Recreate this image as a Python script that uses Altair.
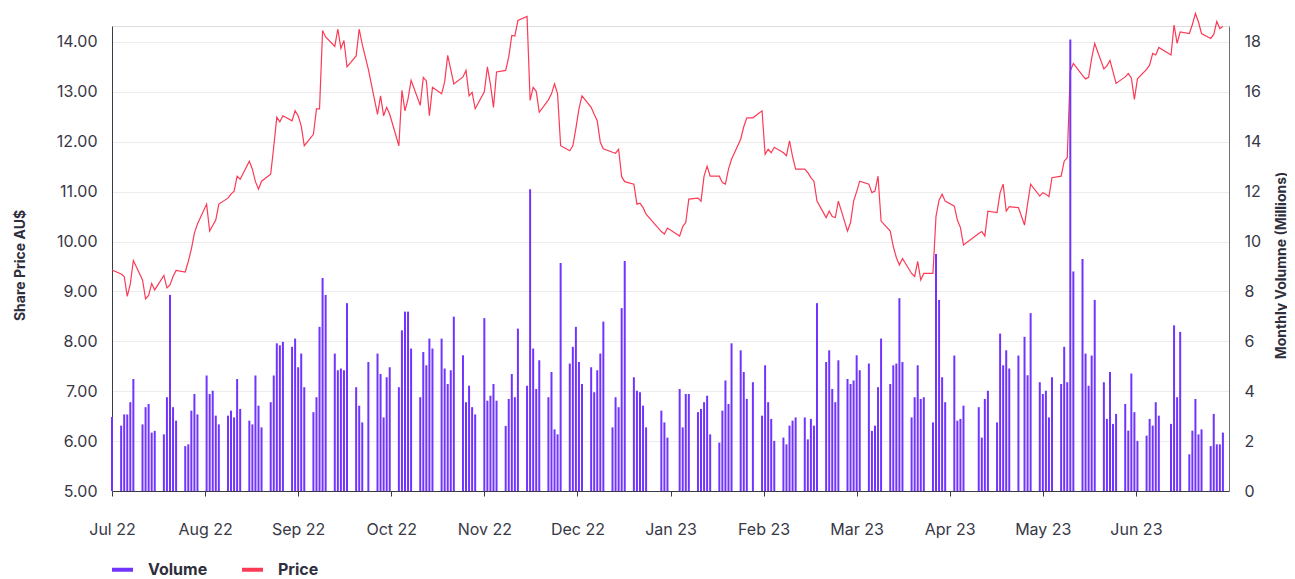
import json
import altair as alt
import pandas as pd

# ---------------- data ----------------
month_labels = ["Jul 22", "Aug 22", "Sep 22", "Oct 22", "Nov 22", "Dec 22",
                "Jan 23", "Feb 23", "Mar 23", "Apr 23", "May 23", "Jun 23"]
asx_holidays = ["2022-09-22", "2022-12-26", "2022-12-27", "2023-01-02", "2023-01-26",
                "2023-04-07", "2023-04-10", "2023-04-25", "2023-06-12"]

# daily volume (millions)
vol_jul = [2.97, 2.62, 3.07, 3.07, 3.56, 4.49, 2.67, 3.36, 3.49, 2.34, 2.41, 2.27, 3.76, 7.86, 3.36, 2.82, 1.80, 1.87, 3.22, 3.89, 3.07]
vol_aug = [4.63, 3.89, 4.02, 3.02, 2.67, 3.02, 3.22, 2.95, 4.49, 3.29, 2.82, 2.67, 4.63, 3.42, 2.55, 3.56, 4.63, 5.92, 5.84, 5.98, 5.78, 6.11, 4.96]
vol_sep = [5.51, 4.16, 3.16, 3.76, 6.58, 8.54, 7.86, 5.51, 4.84, 4.91, 4.84, 7.53, 4.16, 3.42, 2.75, 5.17, 5.51, 4.69, 2.95, 4.56, 4.96]
vol_oct = [4.16, 6.44, 7.19, 7.19, 5.71, 3.76, 5.57, 5.04, 6.11, 5.71, 6.11, 4.91, 4.29, 4.84, 6.99, 5.44, 3.56, 4.22, 3.36, 3.07, 6.93]
vol_nov = [3.62, 3.82, 4.29, 3.62, 2.61, 3.69, 4.69, 3.76, 6.51, 4.22, 12.1, 5.71, 4.09, 5.24, 3.76, 4.77, 2.47, 2.27, 9.14, 5.11, 5.78, 6.58]
vol_dec = [5.17, 4.29, 4.96, 3.96, 4.84, 5.51, 6.79, 2.55, 3.76, 3.36, 7.33, 9.22, 4.56, 4.02, 3.96, 3.42, 2.55, 3.22, 2.75, 2.14]
vol_jan = [4.09, 2.55, 3.89, 3.89, 3.16, 3.29, 3.56, 3.82, 2.27, 1.94, 3.22, 4.43, 3.49, 5.92, 5.64, 4.77, 3.69, 4.36, 3.02, 5.04]
vol_feb = [3.56, 2.89, 2.01, 2.14, 1.87, 2.62, 2.82, 2.95, 2.95, 2.07, 2.89, 2.62, 7.53, 5.17, 5.64, 4.09, 3.56, 5.24, 4.49, 4.29]
vol_mar = [4.43, 5.44, 4.84, 5.11, 2.41, 2.62, 4.16, 6.11, 4.29, 5.04, 5.11, 7.73, 5.17, 2.95, 3.76, 5.04, 3.69, 3.76, 2.75, 9.5, 7.66, 4.56, 3.56]
vol_apr = [5.43, 2.82, 2.89, 3.42, 3.36, 2.14, 3.69, 4.02, 2.75, 6.31, 5.04, 5.64, 4.91, 5.43, 6.18, 4.64, 7.13]
vol_may = [4.36, 3.89, 4.02, 2.95, 4.56, 4.29, 5.78, 4.36, 18.1, 8.8, 9.3, 5.51, 4.22, 5.43, 7.66, 4.36, 2.89, 4.77, 2.69, 3.09, 3.49, 2.42, 4.71]
vol_jun = [3.16, 2.01, 2.22, 2.89, 2.62, 3.56, 3.02, 2.69, 6.64, 3.76, 6.38, 1.47, 2.42, 3.69, 2.27, 2.47, 1.80, 3.09, 1.87, 1.87, 2.34]

# daily closing share price (AU$)
price_jul = [9.43, 9.35, 9.30, 8.90, 9.15, 9.62, 9.23, 8.85, 8.92, 9.16, 9.03, 9.32, 9.07, 9.13, 9.30, 9.42, 9.39, 9.60, 9.85, 10.17, 10.35]
price_aug = [10.75, 10.21, 10.32, 10.43, 10.75, 10.87, 10.95, 11.01, 11.31, 11.25, 11.61, 11.45, 11.20, 11.05, 11.21, 11.35, 11.90, 12.49, 12.40, 12.52, 12.42, 12.62, 12.52]
price_sep = [12.32, 11.92, 12.15, 12.66, 12.66, 14.23, 14.10, 13.91, 14.26, 13.87, 14.03, 13.50, 13.72, 14.26, 13.95, 13.45, 12.55, 12.92, 12.52, 12.69, 12.55]
price_oct = [11.92, 13.03, 12.62, 12.86, 13.23, 12.73, 13.29, 13.22, 12.52, 13.09, 12.96, 13.20, 13.73, 13.45, 13.16, 13.30, 13.43, 12.92, 12.99, 12.66, 13.00]
price_nov = [13.50, 13.15, 12.69, 13.40, 13.43, 13.70, 14.13, 14.12, 14.43, 14.51, 12.83, 13.09, 13.01, 12.59, 12.84, 12.96, 13.16, 12.96, 11.92, 11.82, 11.92, 12.27]
price_dec = [12.66, 12.92, 12.69, 12.55, 12.42, 11.99, 11.86, 11.79, 11.77, 11.85, 11.30, 11.20, 11.15, 10.75, 10.77, 10.68, 10.55, 10.20, 10.15, 10.27]
price_jan = [10.11, 10.30, 10.38, 10.85, 10.87, 10.81, 11.31, 11.51, 11.31, 11.31, 11.18, 11.15, 11.45, 11.65, 12.05, 12.30, 12.48, 12.48, 12.62, 11.75]
price_feb = [11.85, 11.78, 11.89, 11.78, 11.72, 12.02, 11.70, 11.45, 11.45, 11.38, 11.28, 11.21, 10.81, 10.48, 10.61, 10.50, 10.48, 10.81, 10.21, 10.38]
price_mar = [10.81, 11.00, 11.21, 11.15, 10.98, 11.01, 11.31, 10.41, 10.21, 9.90, 9.68, 9.53, 9.66, 9.36, 9.30, 9.60, 9.23, 9.36, 9.36, 10.51, 10.83, 10.95, 10.81]
price_apr = [10.71, 10.43, 10.28, 9.93, 10.16, 10.20, 10.11, 10.61, 10.58, 10.98, 11.15, 10.61, 10.70, 10.68, 10.33, 10.75, 11.15]
price_may = [10.91, 10.98, 10.95, 10.90, 11.28, 11.31, 11.61, 11.68, 13.42, 13.57, 13.33, 13.26, 13.29, 13.67, 13.97, 13.46, 13.52, 13.63, 13.40, 13.17, 13.30, 13.37, 13.28]
price_jun = [12.85, 13.26, 13.45, 13.54, 13.77, 13.74, 13.89, 13.74, 14.34, 13.97, 14.20, 14.17, 14.35, 14.57, 14.40, 14.17, 14.07, 14.15, 14.41, 14.27, 14.31]

volume = (vol_jul + vol_aug + vol_sep + vol_oct + vol_nov + vol_dec +
          vol_jan + vol_feb + vol_mar + vol_apr + vol_may + vol_jun)
price = (price_jul + price_aug + price_sep + price_oct + price_nov + price_dec +
         price_jan + price_feb + price_mar + price_apr + price_may + price_jun)

days = pd.bdate_range("2022-07-01", "2023-06-30")
days = days[~days.isin(pd.to_datetime(asx_holidays))]
assert len(days) == len(volume) == len(price), (len(days), len(volume), len(price))

t_ms = (days.asi8 // 10**6).tolist()
df = pd.DataFrame({"t": t_ms, "volume": volume, "price": price, "series": "Volume"})

t0 = int(pd.Timestamp("2022-07-01").value // 10**6)
t1 = int(pd.Timestamp("2023-07-02").value // 10**6)
step = (t1 - t0) / 12
tick_vals = [t0 + k * step for k in range(12)]
label_expr = json.dumps(month_labels) + "[round((datum.value - %d) / %f)]" % (t0, step)

PURPLE = "#7134FF"
RED = "#FB3A56"
FONT = "Inter"
TXT = "#383846"

xenc = alt.X(
    "t:T",
    title="",
    scale=alt.Scale(type="utc", domain=[t0, t1], padding=0),
    axis=alt.Axis(values=tick_vals, labelExpr=label_expr, grid=False,
                  ticks=True, tickSize=5, tickColor="#3a3a48", domainColor="#3a3a48",
                  labelFontSize=16, labelColor=TXT, labelPadding=25,
                  labelFlush=False, labelOverlap=False, labelFont=FONT),
)

line = alt.Chart(df).mark_line(color=RED, strokeWidth=1.2, clip=False).encode(
    x=xenc,
    y=alt.Y("price:Q", title="Share Price AU$",
            scale=alt.Scale(domain=[5, 14.32], nice=False, zero=False),
            axis=alt.Axis(orient="left", values=[5, 6, 7, 8, 9, 10, 11, 12, 13, 14],
                          format=".2f", ticks=False, grid=True, gridColor="#ececec",
                          gridWidth=1.2, domainColor="#3a3a48", labelPadding=15,
                          labelFontSize=16, labelColor=TXT, labelFont=FONT,
                          titleFont=FONT, titleFontSize=14, titleFontWeight="bold",
                          titleColor="#2e2e3c", titleAngle=270, titleBaseline="middle",
                          titleX=-92, titleY=239)),
)

bars = alt.Chart(df).mark_bar(width=2).encode(
    x=xenc,
    y=alt.Y("volume:Q", title="Monthly Volumne (Millions)",
            scale=alt.Scale(domain=[0, 18.64], nice=False, zero=True),
            axis=alt.Axis(orient="right", values=[0, 2, 4, 6, 8, 10, 12, 14, 16, 18],
                          ticks=False, grid=False, domainColor="#70707a", labelPadding=15,
                          labelFontSize=16, labelColor=TXT, labelFont=FONT,
                          titleFont=FONT, titleFontSize=14, titleFontWeight="bold",
                          titleColor="#2e2e3c", titleAngle=270, titleBaseline="middle",
                          titleX=52, titleY=239)),
    color=alt.Color("series:N",
                    scale=alt.Scale(domain=["Volume", "Price"], range=[PURPLE, RED]),
                    legend=alt.Legend(title="", orient="none", legendX=0, legendY=533,
                                      direction="horizontal",
                                      symbolType="M-1,-0.19L1,-0.19L1,0.19L-1,0.19Z",
                                      symbolSize=441, symbolStrokeWidth=0,
                                      labelFontSize=16, labelFontWeight="bold",
                                      labelColor="#2e2e3c", labelFont=FONT,
                                      labelOffset=15, columnPadding=34)),
)

chart = alt.layer(line, bars).resolve_scale(y="independent").properties(
    width=1117, height=465,
    autosize=alt.AutoSizeParams(type="none"),
    padding={"left": 104, "top": 18, "right": 58, "bottom": 88},
).configure_view(stroke=None).configure(font=FONT)

chart.save("out.html", embed_options={"renderer": "svg", "actions": False})
